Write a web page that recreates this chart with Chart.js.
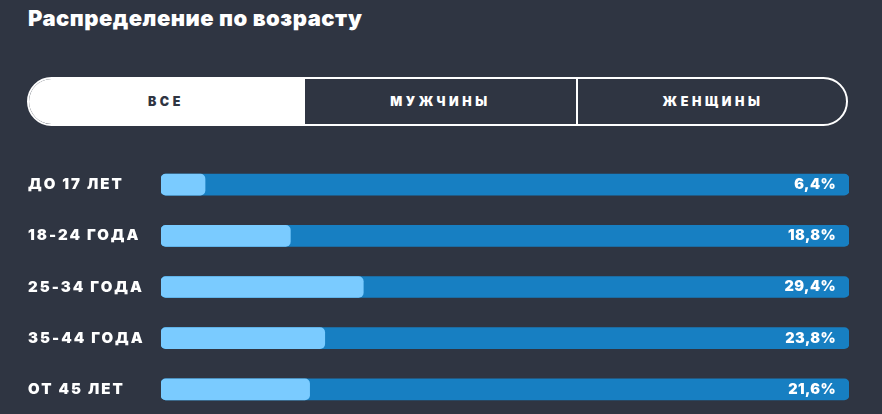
<!DOCTYPE html>
<html lang="ru">
<head>
<meta charset="utf-8">
<script src="https://cdn.jsdelivr.net/npm/chart.js@4/dist/chart.umd.min.js"></script>
<style>
    html, body {
        margin: 0;
        padding: 0;
        width: 882px;
        height: 414px;
        background: #2f3542;
        overflow: hidden;
        font-family: Inter, "Open Sans", sans-serif;
    }
    .title {
        position: absolute;
        left: 28px;
        top: 5px;
        color: #fff;
        font-size: 22px;
        font-weight: 900;
        letter-spacing: 0.5px;
    }
    .tabs {
        position: absolute;
        left: 27px;
        top: 77px;
        width: 817px;
        height: 45px;
        border: 2px solid #fff;
        border-radius: 25px;
        display: flex;
        overflow: hidden;
    }
    .tab {
        flex: 0 0 auto;
        display: flex;
        align-items: center;
        justify-content: center;
        color: #fff;
        font-size: 12.5px;
        font-weight: 900;
        letter-spacing: 3.6px;
    }
    .tab.active {
        background: #fff;
        color: #2f3542;
    }
    .tab + .tab {
        border-left: 2px solid #fff;
    }
    .chart-box {
        position: absolute;
        left: 0;
        top: 150px;
        width: 882px;
        height: 274px;
    }
</style>
</head>
<body>
<div class="title">Распределение по возрасту</div>
<div class="tabs">
    <div class="tab active" style="width:274px">ВСЕ</div>
    <div class="tab" style="width:271px">МУЖЧИНЫ</div>
    <div class="tab" style="width:270px">ЖЕНЩИНЫ</div>
</div>
<div class="chart-box"><canvas id="ageChart"></canvas></div>

<script>
// ==================== ДАННЫЕ ====================

const ageGroups = ['ДО 17 ЛЕТ', '18-24 ГОДА', '25-34 ГОДА', '35-44 ГОДА', 'ОТ 45 ЛЕТ'];
const sharePercent = [6.4, 18.8, 29.4, 23.8, 21.6];
const trackValues = [100, 100, 100, 100, 100];

const LABEL_FONT = { family: 'Inter, "Open Sans", sans-serif', size: 15, weight: '900' };

// подписи процентов справа внутри полосы
const percentLabels = {
    id: 'percentLabels',
    afterDatasetsDraw(chart) {
        const ctx = chart.ctx;
        const meta = chart.getDatasetMeta(1);
        ctx.save();
        ctx.letterSpacing = '0.4px';
        ctx.font = '900 14.5px Inter, "Open Sans", sans-serif';
        ctx.fillStyle = '#ffffff';
        ctx.textAlign = 'right';
        ctx.textBaseline = 'middle';
        meta.data.forEach((bar, i) => {
            const text = sharePercent[i].toFixed(1).replace('.', ',') + '%';
            ctx.fillText(text, bar.x - 13, bar.y);
        });
        ctx.restore();
    }
};

// разрядка для подписей оси
const spacing = {
    id: 'spacing',
    beforeDraw(chart) {
        chart.ctx.letterSpacing = '2px';
    }
};

new Chart(document.getElementById('ageChart'), {
    type: 'bar',
    data: {
        labels: ageGroups,
        datasets: [
            {
                data: sharePercent,
                backgroundColor: '#7acbff',
                borderRadius: 5,
                borderSkipped: false,
                barThickness: 21,
                grouped: false
            },
            {
                data: trackValues,
                backgroundColor: '#177fc2',
                borderRadius: 5,
                borderSkipped: false,
                barThickness: 21,
                grouped: false
            }
        ]
    },
    options: {
        indexAxis: 'y',
        responsive: true,
        maintainAspectRatio: false,
        animation: false,
        layout: {
            padding: { left: 28, right: 33, top: 0, bottom: 0 }
        },
        scales: {
            x: {
                display: false,
                min: 0,
                max: 100
            },
            y: {
                grid: { display: false },
                border: { display: false },
                afterFit(scale) {
                    scale.width = 133;
                },
                ticks: {
                    color: '#ffffff',
                    font: LABEL_FONT,
                    crossAlign: 'far',
                    padding: 0
                }
            }
        },
        plugins: {
            legend: { display: false },
            tooltip: { enabled: false }
        }
    },
    plugins: [spacing, percentLabels]
});
</script>
</body>
</html>
